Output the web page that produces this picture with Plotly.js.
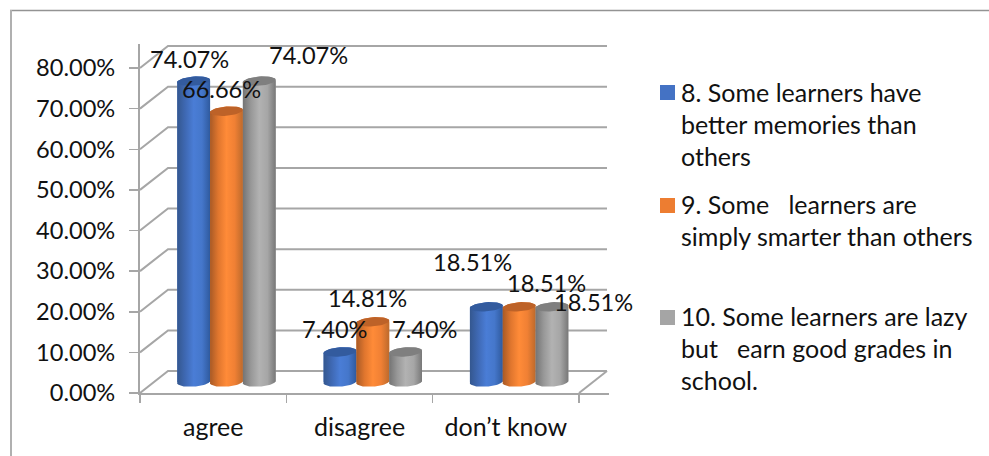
<!DOCTYPE html>
<html>
<head>
<meta charset="utf-8">
<script src="https://cdn.plot.ly/plotly-3.0.1.min.js"></script>
<style>html,body{margin:0;padding:0;background:#fff}</style>
</head>
<body>
<div id="chart" style="width:989px;height:456px"></div>
<script>
// Survey answers, percent of respondents
const categories = ['agree', 'disagree', 'don\u2019t know'];
const seriesNames = [
  '8. Some learners have better memories than others',
  '9. Some learners are simply smarter than others',
  '10. Some learners are lazy but earn good grades in school.'
];
const memoriesValues = [74.07, 7.40, 18.51];
const smarterValues = [66.66, 14.81, 18.51];
const lazyValues = [74.07, 7.40, 18.51];
const yTicks = [0, 10, 20, 30, 40, 50, 60, 70, 80];

// Legend wording, one row per line
const legendLines = [
  ['8. Some learners have', 'better memories than', 'others'],
  ['9. Some\u00a0\u00a0 learners are', 'simply smarter than others'],
  ['10. Some learners are lazy', 'but\u00a0\u00a0 earn good grades in', 'school.']
];
const legendLineY = [[92, 124, 156], [204, 236], [316, 348, 380]];
const legendSwatchY = [85, 198, 310];

// Hand-placed data labels: pixel nudges from each column top
const labelShiftX = [[-4, -5, -14], [-5, -5, 27], [49, 19, 42]];
const labelShiftY = [[-22, -23, -45], [-22, -24, -24], [-26, -23, -5]];

const allValues = [memoriesValues, smarterValues, lazyValues];
const flatColors = ['#4472c4', '#ed7d31', '#a5a5a5'];
const capColors = ['#335b9e', '#bd6228', '#7f7f7f'];
const sideStops = [
  ['#34578f', '#3f69b4', '#4a7dd6', '#4577cb', '#2f5a9e'],
  ['#a85a26', '#e0762e', '#ff8b38', '#f08034', '#bd6a2c'],
  ['#747474', '#989898', '#b2b2b2', '#a6a6a6', '#787878']
];

// Layout of the oblique box, in canvas pixels
const W = 989, H = 456;
const frontLeft = 140, frontRight = 579, floorY = 393, topY = 68;
const depthX = 28, depthY = 22, pad = 2;
const unitX = (frontRight - frontLeft) / categories.length;
const unitY = (floorY - topY) / 80;
const depthU = depthX / unitX, depthV = depthY / unitY;
const px = x => x / W, py = y => 1 - y / H;

const columnWidth = 32.8 / unitX;
const columnDepth = 26.6 / unitX;
const baseV = (depthY / 2) / unitY;
const capRx = columnWidth / 2, capRy = 4.6 / unitY, capTilt = 1.2 / unitY;

// Ellipse outline on the column axis, sheared to follow the oblique view
function ring(cx, cy, from, to, n) {
  const xs = [], ys = [];
  for (let i = 0; i <= n; i++) {
    const t = from + (to - from) * i / n;
    xs.push(cx + capRx * Math.cos(t));
    ys.push(cy + capRy * Math.sin(t) + capTilt * Math.cos(t));
  }
  return [xs, ys];
}

const textColor = '#111';
const numberFont = {family: 'Lato, sans-serif', size: 23.6, color: textColor};
const wordFont = {family: 'Lato, sans-serif', size: 25, color: textColor};

const traces = [];
const annotations = [];
const centreOf = (c, s) => c + 0.5 + columnDepth / 2 + (s - 1) * columnWidth;

allValues.forEach((values, s) => {
  traces.push({
    type: 'bar', name: seriesNames[s], showlegend: false, hoverinfo: 'skip',
    x: categories.map((_, c) => centreOf(c, s)),
    y: values, base: values.map(() => baseV), width: columnWidth,
    marker: {color: flatColors[s], line: {width: 0}}
  });
});

allValues.forEach((values, s) => {
  values.forEach((v, c) => {
    const cx = centreOf(c, s), top = baseV + v;
    // Rounded body: upper rim edge across, lower rim back
    const upper = ring(cx, top, Math.PI, 0, 24);
    const lower = ring(cx, baseV, 0, -Math.PI, 24);
    traces.push({
      type: 'scatter', mode: 'lines', showlegend: false, hoverinfo: 'skip',
      x: upper[0].concat(lower[0]), y: upper[1].concat(lower[1]),
      fill: 'toself', line: {width: 0, color: 'rgba(0,0,0,0)'},
      fillgradient: {
        type: 'horizontal',
        colorscale: sideStops[s].map((col, i) => [i / 4, col])
      }
    });
    const cap = ring(cx, top, 0, 2 * Math.PI, 48);
    traces.push({
      type: 'scatter', mode: 'lines', showlegend: false, hoverinfo: 'skip',
      x: cap[0], y: cap[1], fill: 'toself', fillcolor: capColors[s],
      line: {width: 0, color: 'rgba(0,0,0,0)'}
    });
    annotations.push({
      x: cx, y: top, xref: 'x', yref: 'y', showarrow: false,
      xanchor: 'center', yanchor: 'middle',
      xshift: labelShiftX[s][c], yshift: -labelShiftY[s][c],
      text: v.toFixed(2) + '%', font: numberFont
    });
  });
});

// Side wall and back wall rules
const gridColor = '#a6a6a6';
const shapes = yTicks.map(v => ({
  type: 'path', xref: 'x', yref: 'y', layer: 'below',
  path: `M0,${v} L${depthU},${v + depthV} L${categories.length + depthU},${v + depthV}`,
  line: {color: gridColor, width: 2}
}));
// Right edge of the floor
shapes.push({
  type: 'line', xref: 'x', yref: 'y', layer: 'below',
  x0: categories.length, y0: 0, x1: categories.length + depthU, y1: depthV,
  line: {color: gridColor, width: 2}
});
// Outer frame: top and left edges
shapes.push({type: 'line', xref: 'paper', yref: 'paper', x0: px(10), x1: px(989), y0: py(10.5), y1: py(10.5), line: {color: '#939393', width: 1.3}});
shapes.push({type: 'line', xref: 'paper', yref: 'paper', x0: px(11), x1: px(11), y0: py(10), y1: py(456), line: {color: '#b0b0b0', width: 2}});

// Legend swatches and text rows
legendLines.forEach((rows, e) => {
  shapes.push({
    type: 'rect', xref: 'paper', yref: 'paper', line: {width: 0},
    x0: px(660), x1: px(675), y0: py(legendSwatchY[e]), y1: py(legendSwatchY[e] + 15),
    fillcolor: flatColors[e]
  });
  rows.forEach((row, i) => annotations.push({
    x: px(681), y: py(legendLineY[e][i]), xref: 'paper', yref: 'paper',
    xanchor: 'left', yanchor: 'middle', showarrow: false, align: 'left',
    xshift: -2, text: row, font: wordFont
  }));
});

const layout = {
  width: W, height: H, autosize: false, showlegend: false,
  margin: {l: 0, r: 0, t: 0, b: 0, pad: 0},
  paper_bgcolor: '#fff', plot_bgcolor: 'rgba(0,0,0,0)',
  barmode: 'overlay', hovermode: false,
  xaxis: {
    domain: [px(frontLeft), px(frontRight + depthX + pad)],
    range: [0, categories.length + depthU + pad / unitX],
    tickmode: 'array', tickvals: categories.map((_, c) => c + 0.5), ticktext: categories,
    ticks: 'outside', ticklen: 0, tickfont: wordFont, ticklabelstandoff: 11,
    showgrid: false, zeroline: false, showline: true, linecolor: gridColor, linewidth: 2,
    minor: {tickmode: 'array', tickvals: [0, 1, 2, 3], ticks: 'outside', ticklen: 8, tickwidth: 1.5, tickcolor: gridColor, showgrid: false}
  },
  yaxis: {
    domain: [py(floorY), py(topY - depthY - pad)],
    range: [0, 80 + depthV + pad / unitY],
    tickmode: 'array', tickvals: yTicks, ticktext: yTicks.map(v => v.toFixed(2) + '%'),
    ticks: 'outside', ticklen: 9, tickwidth: 1.5, tickcolor: gridColor, tickfont: numberFont,
    ticklabelstandoff: 9,
    showgrid: false, zeroline: false, showline: true, linecolor: gridColor, linewidth: 2
  },
  shapes, annotations
};

Plotly.newPlot('chart', traces, layout, {staticPlot: true, displayModeBar: false});
</script>
</body>
</html>
